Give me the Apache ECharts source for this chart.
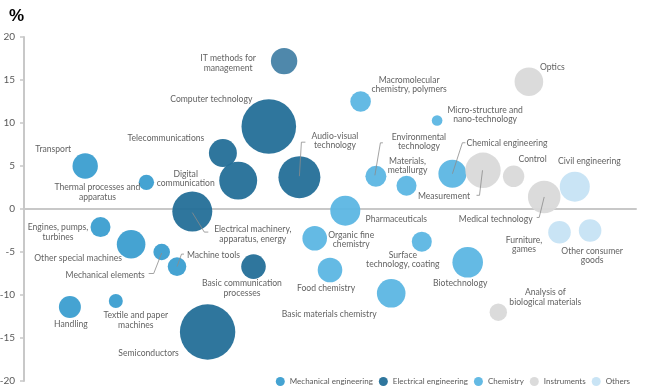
<!DOCTYPE html>
<html>
<head>
<meta charset="utf-8">
<script src="https://cdn.jsdelivr.net/npm/echarts@6/dist/echarts.min.js"></script>
<style>html,body{margin:0;padding:0;background:#fff}#c{width:646px;height:390px}</style>
</head>
<body>
<div id="c"></div>
<script>
// ---- data ----
const groups = ['Mechanical engineering', 'Electrical engineering', 'Chemistry', 'Instruments', 'Others'];
const fields = [
  'Transport', 'Thermal processes and\napparatus', 'Engines, pumps,\nturbines', 'Other special machines',
  'Mechanical elements', 'Machine tools', 'Handling', 'Textile and paper\nmachines',
  'IT methods for\nmanagement', 'Computer technology', 'Telecommunications', 'Digital\ncommunication',
  'Audio-visual\ntechnology', 'Electrical machinery,\napparatus, energy', 'Basic communication\nprocesses', 'Semiconductors',
  'Macromolecular\nchemistry, polymers', 'Micro-structure and\nnano-technology', 'Environmental\ntechnology', 'Materials,\nmetallurgy',
  'Chemical engineering', 'Pharmaceuticals', 'Organic fine\nchemistry', 'Food chemistry', 'Basic materials chemistry',
  'Surface\ntechnology, coating', 'Biotechnology',
  'Optics', 'Measurement', 'Control', 'Medical technology', 'Analysis of\nbiological materials',
  'Civil engineering', 'Furniture,\ngames', 'Other consumer\ngoods'
];
const fieldGroup = [0,0,0,0,0,0,0,0, 1,1,1,1,1,1,1,1, 2,2,2,2,2,2,2,2,2,2,2, 3,3,3,3,3, 4,4,4];
const fieldRank = [4,8,5,7,9,10,3,6, 17,16,13,14,18,11,15,12, 22,27,23,25,28,21,19,20,24,26,29, 33,30,32,34,31, 36,35,37];
const growth = [5.0,3.1,-2.1,-4.1,-5.0,-6.7,-11.4,-10.7, 17.2,9.6,6.5,3.3,3.7,-0.3,-6.7,-14.3,
  12.5,10.3,3.8,2.7,4.1,-0.2,-3.4,-7.1,-9.8,-3.8,-6.2, 14.8,4.5,3.8,1.4,-12.0, 2.6,-2.7,-2.5];
const weight = [6.45,2.37,4.0,8.18,2.76,3.46,4.84,1.96, 6.97,29.8,7.84,14.4,17.6,16.0,6.05,30.7,
  4.24,1.12,4.41,4.0,7.84,9.0,6.05,6.05,8.18,4.0,9.36, 8.18,12.5,4.58,10.6,3.03, 9.0,5.1,5.1];
const yTicks = [-20, -15, -10, -5, 0, 5, 10, 15, 20];

// ---- layout (label offsets in px from bubble centre, leader lines) ----
const labelOffset = [
  [-32,-17],[-49,10],[-42.5,5],[-53,14],[-56.5,23],[36.5,-11.5],[1,17],[20,19],
  [-56,2],[-57.5,-27.5],[-57,-15],[-52.5,-2],[35.5,-36.5],[60.5,22.5],[-11.5,21.5],[-59,21],
  [48.5,-17],[48,-5.5],[43,-34.5],[1,-20],[54.5,-31],[51,8.5],[36.5,1.5],[-4,18.5],[-62,20.5],[-19,18],[-7.5,20.5],
  [23.5,-15],[-39,25.5],[19,-17],[-48.5,22.5],[47,-15],
  [14.5,-25.5],[-35.5,12.5],[2,25]
];
const leaders = {
  4: [[0,1],[-8,21.5],[-13,21.5]],
  5: [[0,0],[4.5,-12.5],[7,-12.5]],
  12: [[0,-1],[2,-35],[6,-35]],
  13: [[0,1],[12,20.5],[16,20.5]],
  18: [[-1,-1],[4.5,-33.5],[7,-33.5]],
  20: [[0,0],[10,-31],[13,-31]],
  28: [[-0.5,0],[-3.5,25],[-6.5,25]],
  30: [[0,0],[-5,20.5],[-7.5,20.5]]
};
const colors = ['#3b9ed0', '#246f98', '#5cb6e3', '#d9d9d9', '#c6e3f4'];
const textColor = '#595959';
const fontFam = 'Lato, "Open Sans", sans-serif';

const series = groups.map(function (g, gi) {
  const data = [];
  fields.forEach(function (f, i) {
    if (fieldGroup[i] !== gi) return;
    const item = {
      name: f,
      value: [fieldRank[i], growth[i], weight[i]],
      label: { offset: labelOffset[i] }
    };
    if (i === 8) item.itemStyle = { color: '#4682a6' };
    data.push(item);
  });
  return {
    name: g,
    type: 'scatter',
    data: data,
    symbolSize: function (v) { return 10 * Math.sqrt(v[2]); },
    itemStyle: { color: colors[gi], opacity: 0.95 },
    emphasis: { disabled: true },
    label: {
      show: true, position: 'inside', formatter: '{b}',
      color: textColor, fontSize: 8.6, fontFamily: fontFam, lineHeight: 9.5,
      align: 'center', verticalAlign: 'middle'
    }
  };
});

const leaderData = Object.keys(leaders).map(function (k) {
  const i = +k;
  return [fieldRank[i], growth[i], i];
});
series.push({
  type: 'custom',
  name: 'leaders',
  silent: true,
  z: 4,
  data: leaderData,
  renderItem: function (params, api) {
    const c = api.coord([api.value(0), api.value(1)]);
    const pts = leaders[api.value(2)].map(function (p) { return [c[0] + p[0], c[1] + p[1]]; });
    return { type: 'polyline', shape: { points: pts }, style: { stroke: '#8c8c8c', lineWidth: 0.8, fill: null } };
  }
});

const chart = echarts.init(document.getElementById('c'), null, { renderer: 'canvas' });
chart.setOption({
  animation: false,
  backgroundColor: '#ffffff',
  title: { text: '%', left: 4, top: 3, textStyle: { fontSize: 17, fontWeight: 'bold', color: '#000', fontFamily: 'Liberation Sans, sans-serif' } },
  grid: { left: 24, right: 10, top: 37, bottom: 9, containLabel: false, outerBoundsMode: 'none' },
  legend: {
    data: groups, right: 11, top: 372, icon: 'circle', itemWidth: 9, itemHeight: 9, itemGap: 6,
    textStyle: { fontSize: 8, color: textColor, fontFamily: fontFam }
  },
  xAxis: {
    type: 'value', min: 0, max: 40,
    axisLine: { show: true, onZero: true, lineStyle: { color: '#c8c8c8', width: 2 } },
    axisTick: { show: false }, axisLabel: { show: false }, splitLine: { show: false }
  },
  yAxis: {
    type: 'value', min: yTicks[0], max: yTicks[yTicks.length - 1], interval: 5,
    axisLine: { show: true, lineStyle: { color: '#c8c8c8', width: 2 } },
    axisTick: { show: true, length: 4, lineStyle: { color: '#c8c8c8', width: 1.5 } },
    axisLabel: { color: textColor, fontSize: 10, margin: 9, fontFamily: fontFam },
    splitLine: { show: false }
  },
  series: series
});
</script>
</body>
</html>
